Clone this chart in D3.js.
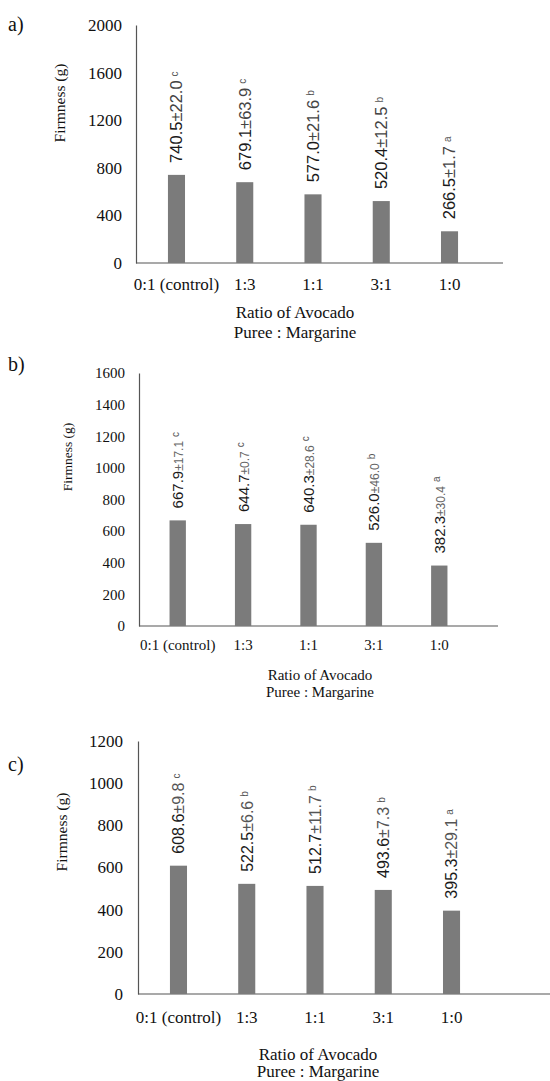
<!DOCTYPE html>
<html>
<head>
<meta charset="utf-8">
<script src="https://cdn.jsdelivr.net/npm/d3@7"></script>
<style>
  body { margin: 0; background: #fff; }
  svg { display: block; }
  .tick text { fill: #111; }
</style>
</head>
<body>
<div id="chart"></div>
<script>
var categories = ["0:1 (control)", "1:3", "1:1", "3:1", "1:0"];

var valuesA = [740.5, 679.1, 577.0, 520.4, 266.5];
var sdA     = ["22.0", "63.9", "21.6", "12.5", "1.7"];
var lettersA = ["c", "c", "b", "b", "a"];
var ticksA  = [0, 400, 800, 1200, 1600, 2000];

var valuesB = [667.9, 644.7, 640.3, 526.0, 382.3];
var sdB     = ["17.1", "0.7", "28.6", "46.0", "30.4"];
var lettersB = ["c", "c", "c", "b", "a"];
var ticksB  = [0, 200, 400, 600, 800, 1000, 1200, 1400, 1600];

var valuesC = [608.6, 522.5, 512.7, 493.6, 395.3];
var sdC     = ["9.8", "6.6", "11.7", "7.3", "29.1"];
var lettersC = ["c", "b", "b", "b", "a"];
var ticksC  = [0, 200, 400, 600, 800, 1000, 1200];

var width = 550,
	height = 1081;

var serif = "'Liberation Serif', 'Times New Roman', serif",
	sans = "'Liberation Sans', Arial, sans-serif";

var svg = d3.select("#chart")
	.append("svg")
	.attr("width", width)
	.attr("height", height);

// layout of the three panels
var panels = [
	{ tag: "a)", tagY: 31, values: valuesA, sd: sdA, letters: lettersA, ticks: ticksA,
	  top: 25, zero: 263, axisX: 136, axisEnd: 503, band: [116.75, 509.25],
	  fs: 17, yfs: 15.5, catPad: 15, yPad: 14, titleX: 295, titleY: [318, 338], yTitle: [60, 103],
	  valSize: 16.5, sdSize: 16.5, sdColor: "#444" },
	{ tag: "b)", tagY: 371, values: valuesB, sd: sdB, letters: lettersB, ticks: ticksB,
	  top: 373, zero: 626, axisX: 139, axisEnd: 498, band: [120.5, 496.5],
	  fs: 15, yfs: 13.5, catPad: 13, yPad: 14, titleX: 320, titleY: [680, 697], yTitle: [67, 457],
	  valSize: 15, sdSize: 12, sdColor: "#666" },
	{ tag: "c)", tagY: 771, values: valuesC, sd: sdC, letters: lettersC, ticks: ticksC,
	  top: 741, zero: 994, axisX: 138, axisEnd: 550, band: [118.75, 511.25],
	  fs: 17, yfs: 15.5, catPad: 17, yPad: 15, titleX: 318, titleY: [1060, 1077], yTitle: [62, 832],
	  valSize: 16, sdSize: 16, sdColor: "#555" }
];

panels.forEach(function(p) {
	var g = svg.append("g");

	var x = d3.scaleBand()
		.domain(categories)
		.range(p.band)
		.padding(0.75);

	var y = d3.scaleLinear()
		.domain([0, d3.max(p.ticks)])
		.range([p.zero, p.top]);

	// y axis
	var yAxis = g.append("g")
		.attr("transform", "translate(" + p.axisX + ",0)")
		.call(d3.axisLeft(y).tickValues(p.ticks).tickFormat(d3.format("d"))
			.tickSize(0).tickPadding(p.yPad));
	yAxis.select(".domain").attr("stroke", "#555").attr("stroke-width", 1.2);
	yAxis.selectAll("text").style("font-family", serif).style("font-size", p.fs + "px");

	// x axis
	var xAxis = g.append("g")
		.attr("transform", "translate(0," + p.zero + ")")
		.call(d3.axisBottom(x).tickSize(0).tickPadding(p.catPad));
	xAxis.select(".domain").remove();
	xAxis.selectAll("text").style("font-family", serif).style("font-size", p.fs + "px");

	g.append("line")
		.attr("x1", p.axisX).attr("x2", p.axisEnd)
		.attr("y1", y(0)).attr("y2", y(0))
		.attr("stroke", "#555")
		.attr("stroke-width", 1.2);

	// bars
	g.selectAll(".bar")
		.data(p.values)
		.enter().append("rect")
		.attr("class", "bar")
		.attr("x", function(d, i) { return x(categories[i]); })
		.attr("width", x.bandwidth())
		.attr("y", function(d) { return y(d); })
		.attr("height", function(d) { return y(0) - y(d); })
		.attr("fill", "#7b7b7b");

	// value labels, rotated
	var lab = g.selectAll(".val")
		.data(p.values)
		.enter().append("text")
		.attr("class", "val")
		.attr("transform", function(d, i) {
			return "translate(" + (x(categories[i]) + x.bandwidth() / 2) + "," + (y(d) - 12) + ") rotate(-90)";
		})
		.attr("dy", "0.36em")
		.style("font-family", sans)
		.style("font-size", p.valSize + "px")
		.style("fill", "#1a1a1a");

	lab.append("tspan")
		.text(function(d) { return d.toFixed(1); });
	lab.append("tspan")
		.style("font-size", p.sdSize + "px")
		.style("fill", p.sdColor)
		.text(function(d, i) { return "\u00b1" + p.sd[i]; });
	lab.append("tspan")
		.attr("dx", 4)
		.attr("dy", "-0.45em")
		.style("font-size", "10px")
		.style("fill", "#555")
		.text(function(d, i) { return p.letters[i]; });

	// titles
	g.append("text")
		.attr("transform", "translate(" + p.yTitle[0] + "," + p.yTitle[1] + ") rotate(-90)")
		.attr("text-anchor", "middle")
		.attr("dy", "0.35em")
		.style("font-family", serif)
		.style("font-size", p.yfs + "px")
		.style("fill", "#111")
		.text("Firmness (g)");

	g.append("text")
		.attr("x", p.titleX).attr("y", p.titleY[0])
		.attr("text-anchor", "middle")
		.style("font-family", serif)
		.style("font-size", p.fs + "px")
		.style("fill", "#111")
		.text("Ratio of Avocado");

	g.append("text")
		.attr("x", p.titleX).attr("y", p.titleY[1])
		.attr("text-anchor", "middle")
		.style("font-family", serif)
		.style("font-size", p.fs + "px")
		.style("fill", "#111")
		.text("Puree : Margarine");

	g.append("text")
		.attr("x", 8).attr("y", p.tagY)
		.style("font-family", serif)
		.style("font-size", "20px")
		.style("fill", "#111")
		.text(p.tag);
});
</script>
</body>
</html>
